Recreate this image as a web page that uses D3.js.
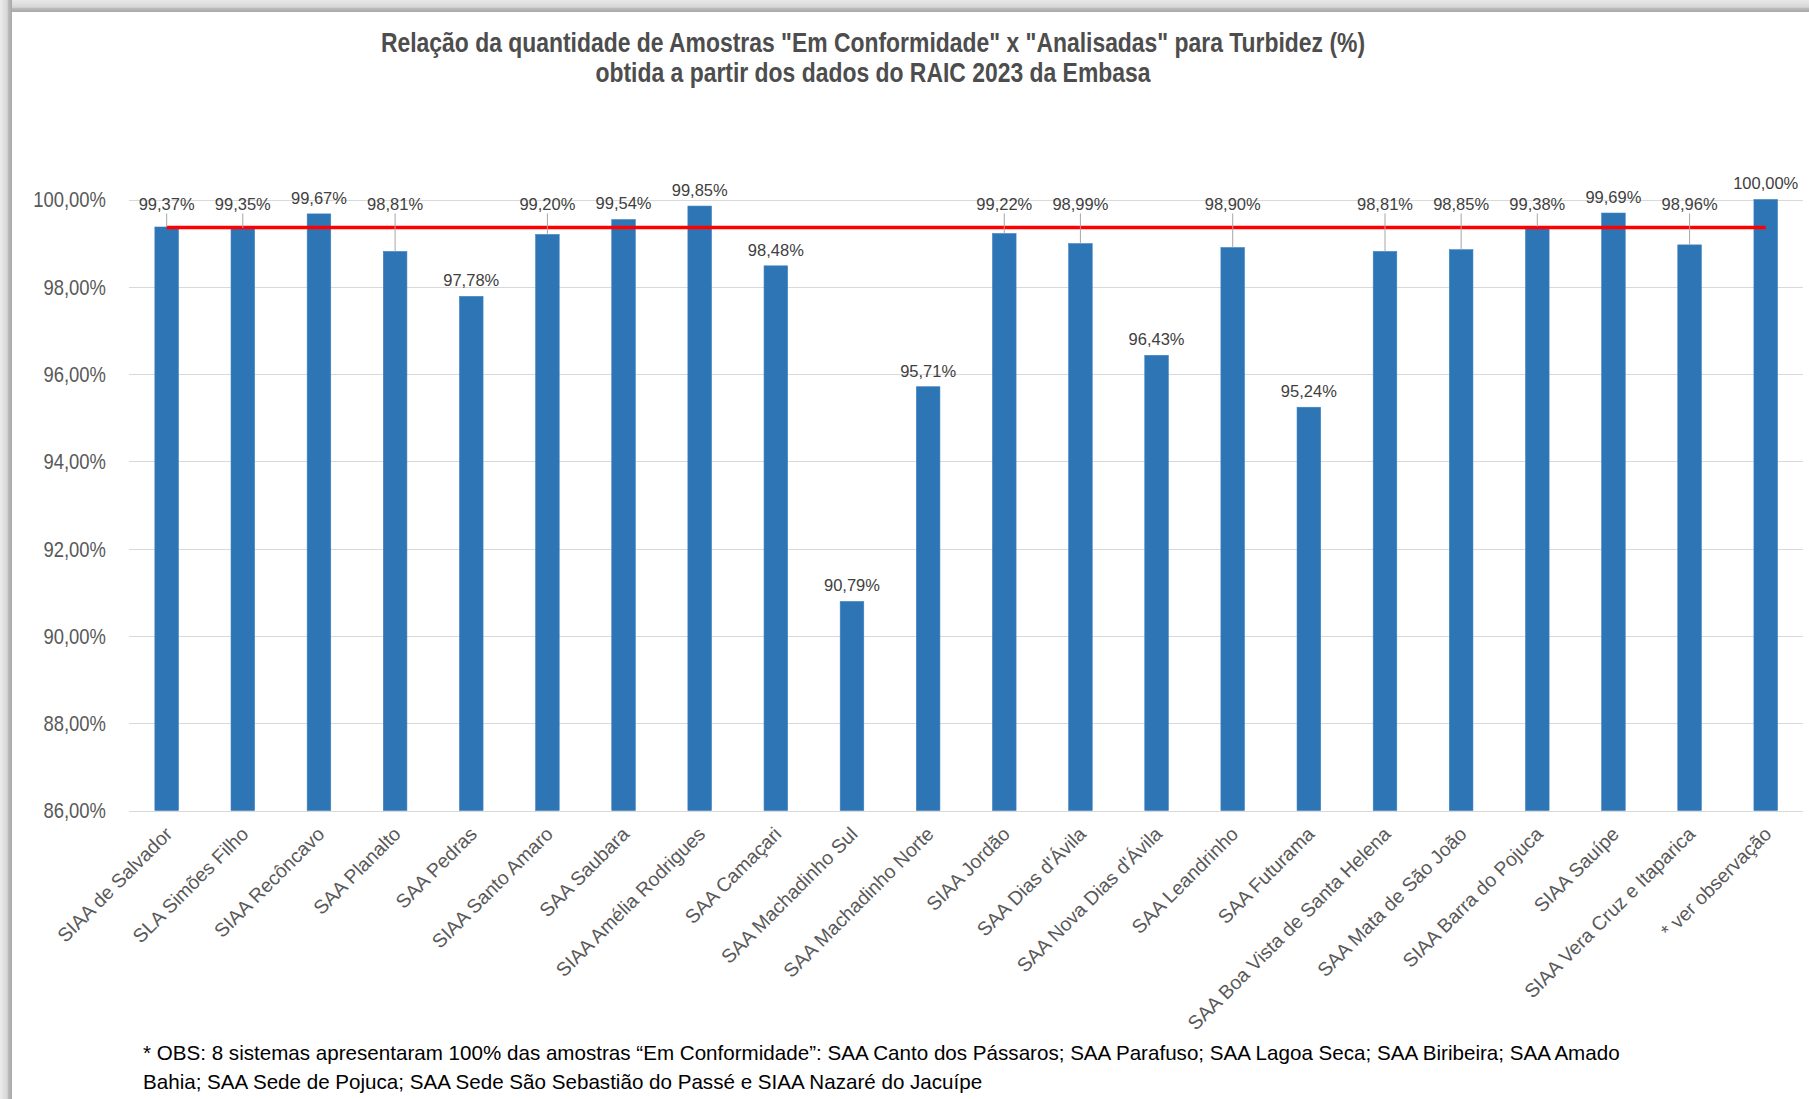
<!DOCTYPE html>
<html><head><meta charset="utf-8">
<script src="https://cdn.jsdelivr.net/npm/d3@7"></script>
<style>body{margin:0;background:#fff;} svg{display:block;}</style>
</head><body>
<svg id="chart" width="1809" height="1099"></svg>
<script>
// ---------------- DATA ----------------
const categories = [
  "SIAA de Salvador", "SLA Simões Filho", "SIAA Recôncavo", "SAA Planalto", "SAA Pedras",
  "SIAA Santo Amaro", "SAA Saubara", "SIAA Amélia Rodrigues", "SAA Camaçari", "SAA Machadinho Sul",
  "SAA Machadinho Norte", "SIAA Jordão", "SAA Dias d'Ávila", "SAA Nova Dias d'Ávila", "SAA Leandrinho",
  "SAA Futurama", "SAA Boa Vista de Santa Helena", "SAA Mata de São João", "SIAA Barra do Pojuca",
  "SIAA Sauípe", "SIAA Vera Cruz e Itaparica", "* ver observação"
];
const values = [
  99.37, 99.35, 99.67, 98.81, 97.78,
  99.20, 99.54, 99.85, 98.48, 90.79,
  95.71, 99.22, 98.99, 96.43, 98.90,
  95.24, 98.81, 98.85, 99.38,
  99.69, 98.96, 100.00
];
const referenceValue = [99.36];
const yTicks = [86, 88, 90, 92, 94, 96, 98, 100];
const yDomain = [86, 100];
const titleLines = [
  'Relação da quantidade de Amostras "Em Conformidade" x "Analisadas" para Turbidez (%)',
  'obtida a partir dos dados do RAIC 2023 da Embasa'
];
const noteLines = [
  '* OBS: 8 sistemas apresentaram 100% das amostras “Em Conformidade”: SAA Canto dos Pássaros; SAA Parafuso; SAA Lagoa Seca; SAA Biribeira; SAA Amado',
  'Bahia; SAA Sede de Pojuca; SAA Sede São Sebastião do Passé e SIAA Nazaré do Jacuípe'
];

// ---------------- LAYOUT ----------------
const W = 1809, H = 1099;
const plot = { left: 128.6, right: 1803.8, top: 199.5, bottom: 810.5 };
const svg = d3.select("#chart");

function hasFont(name) {
  const c = document.createElement("canvas").getContext("2d");
  const s = "abcdefghijklmnopqrstuvwxyz0123456789ABCDEFG";
  c.font = "40px monospace"; const a = c.measureText(s).width;
  c.font = `40px '${name}', monospace`; const b = c.measureText(s).width;
  return Math.abs(a - b) > 0.5;
}
const narrowOK = hasFont("Liberation Sans Narrow");
const narrowFamily = narrowOK ? "'Liberation Sans Narrow', 'Arial Narrow', sans-serif" : "'Liberation Sans', Arial, sans-serif";
const narrowSX = narrowOK ? 1 : 0.82;
const baseFamily = "'Liberation Sans', Arial, sans-serif";

const locale = d3.formatLocale({ decimal: ",", thousands: ".", grouping: [3], currency: ["", ""] });
const fmt = v => locale.format(".2f")(v) + "%";

// frame / shadow
const defs = svg.append("defs");
const gTop = defs.append("linearGradient").attr("id", "gTop").attr("x1", 0).attr("y1", 0).attr("x2", 0).attr("y2", 1);
[[0, "#e9e9e9"], [0.6, "#d6d6d6"], [0.72, "#b8b8b8"], [1, "#a9a9a9"]].forEach(s => gTop.append("stop").attr("offset", s[0]).attr("stop-color", s[1]));
const gLeft = defs.append("linearGradient").attr("id", "gLeft").attr("x1", 0).attr("y1", 0).attr("x2", 1).attr("y2", 0);
[[0, "#ececec"], [0.6, "#d6d6d6"], [0.72, "#b8b8b8"], [1, "#a9a9a9"]].forEach(s => gLeft.append("stop").attr("offset", s[0]).attr("stop-color", s[1]));
svg.append("rect").attr("x", 0).attr("y", 0).attr("width", W).attr("height", H).attr("fill", "#fff");
svg.append("rect").attr("x", 0).attr("y", 0).attr("width", W).attr("height", 12).attr("fill", "url(#gTop)");
svg.append("rect").attr("x", 0).attr("y", 0).attr("width", 12).attr("height", H).attr("fill", "url(#gLeft)");

// scales
const x = d3.scaleBand().domain(categories).range([plot.left, plot.right]).paddingInner(0.69).paddingOuter(0.345);
const y = d3.scaleLinear().domain(yDomain).range([plot.bottom, plot.top]);

// gridlines
svg.append("g").selectAll("line").data(yTicks).join("line")
  .attr("x1", plot.left + 0.4).attr("x2", plot.right - 0.8)
  .attr("y1", d => Math.round(y(d)) + 0.5).attr("y2", d => Math.round(y(d)) + 0.5)
  .attr("stroke", "#d9d9d9").attr("stroke-width", 1.2);

// y axis labels
svg.append("g").selectAll("text").data(yTicks).join("text")
  .attr("transform", d => `translate(106,${y(d)}) scale(${narrowSX},1)`)
  .attr("text-anchor", "end").attr("dy", "0.35em")
  .attr("font-family", narrowFamily).attr("font-size", 22.5).attr("fill", "#595959")
  .text(d => fmt(d));

// bars
const data = categories.map((c, i) => ({ c, v: values[i] }));
svg.append("g").selectAll("rect").data(data).join("rect")
  .attr("x", d => x(d.c)).attr("width", x.bandwidth())
  .attr("y", d => y(d.v)).attr("height", d => y(yDomain[0]) - y(d.v))
  .attr("fill", "#2e75b6").attr("stroke", "#3d82c0").attr("stroke-width", 0.6);

// reference line (first bar center to last bar center)
const cx = c => x(c) + x.bandwidth() / 2;
svg.append("line")
  .attr("x1", cx(categories[0])).attr("x2", cx(categories[categories.length - 1]))
  .attr("y1", y(referenceValue[0])).attr("y2", y(referenceValue[0]))
  .attr("stroke", "#ff0000").attr("stroke-width", 3.6);

// data labels (lifted above the red line when they would collide with it)
const yRef = y(referenceValue[0]);
const labels = data.map(d => {
  const top = y(d.v);
  const diff = top - yRef;
  const lifted = diff > -5 && diff < 30;
  const ly = lifted ? yRef - 23 : top - 16; // label centre
  return { ...d, top, lifted, ly };
});
svg.append("g").selectAll("line").data(labels.filter(d => d.lifted)).join("line")
  .attr("x1", d => cx(d.c)).attr("x2", d => cx(d.c))
  .attr("y1", d => d.ly + 9).attr("y2", d => d.top)
  .attr("stroke", "#a6a6a6").attr("stroke-width", 1);
svg.append("g").selectAll("text").data(labels).join("text")
  .attr("x", d => cx(d.c)).attr("y", d => d.ly).attr("dy", "0.35em")
  .attr("text-anchor", "middle").attr("font-family", baseFamily).attr("font-size", 16.5)
  .attr("fill", "#404040").text(d => fmt(d.v));

// x labels
svg.append("g").selectAll("text").data(categories).join("text")
  .attr("transform", c => `translate(${cx(c) + 2},${plot.bottom + 20}) rotate(-45)`)
  .attr("text-anchor", "end").attr("dy", "0.35em")
  .attr("font-family", baseFamily).attr("font-size", 19.5).attr("fill", "#595959")
  .text(c => c);

// title
svg.append("g").selectAll("text").data(titleLines).join("text")
  .attr("transform", (t, i) => `translate(873,${51.7 + i * 30.5}) scale(${narrowSX * 1.035},1)`)
  .attr("text-anchor", "middle").attr("font-family", narrowFamily).attr("font-weight", "bold")
  .attr("font-size", 27).attr("fill", "#4d4d4d").text(t => t);

// note
svg.append("g").selectAll("text").data(noteLines).join("text")
  .attr("x", 143).attr("y", (t, i) => 1059.5 + i * 29.5)
  .attr("font-family", baseFamily).attr("font-size", 20.6).attr("fill", "#000")
  .text(t => t);
</script>
</body></html>
